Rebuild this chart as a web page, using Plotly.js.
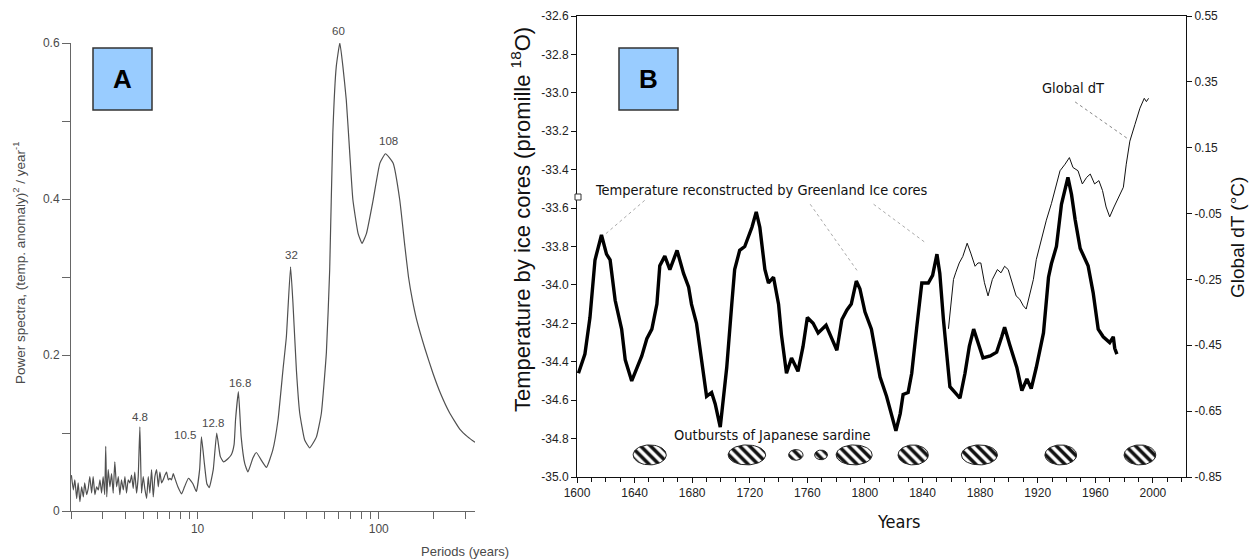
<!DOCTYPE html>
<html><head><meta charset="utf-8">
<script src="https://cdn.plot.ly/plotly-3.0.1.min.js"></script>
<style>html,body{margin:0;padding:0;background:#fff}#chart{width:1250px;height:560px}</style>
</head><body><div id="chart"></div>
<script>
// ---------- Panel A: power spectrum ----------
const periods = [
 2.01,2.06,2.10,2.15,2.19,2.24,2.29,2.34,2.38,2.44,
 2.49,2.54,2.60,2.65,2.71,2.77,2.83,2.89,2.95,3.01,
 3.07,3.11,3.15,3.21,3.28,3.35,3.42,3.49,3.57,3.65,
 3.72,3.80,3.89,3.97,4.05,4.14,4.23,4.32,4.41,4.50,
 4.60,4.70,4.80,4.90,5.01,5.11,5.23,5.34,5.45,5.57,
 5.69,5.81,5.94,6.07,6.19,6.33,6.46,6.60,6.74,6.89,
 7.03,7.18,7.34,7.49,7.78,8.16,8.47,8.9,9.42,9.84,
 10.26,10.5,10.9,11.25,11.6,12.2,12.75,13.34,13.9,14.7,
 15.35,15.9,16.2,16.8,17.4,18.2,18.96,20.2,21.1,22.5,
 24.0,26.0,27.8,29.6,30.9,32.6,33.6,35.1,36.6,39.0,
 41.6,45.3,48.2,51.4,53.6,55.8,58.3,61.0,63.4,66.2,
 69.0,72.0,76.9,80.9,85.6,93.2,101.5,109,120,130.6,
 139.3,146,153,162,180,199,220,246,280,310,
 340];
const power = [
 0.046,0.027,0.040,0.016,0.036,0.012,0.031,0.018,0.036,0.021,
 0.029,0.044,0.023,0.044,0.021,0.031,0.027,0.040,0.023,0.044,
 0.021,0.083,0.018,0.053,0.031,0.048,0.023,0.063,0.031,0.044,
 0.021,0.040,0.027,0.044,0.023,0.040,0.036,0.046,0.029,0.050,
 0.023,0.044,0.108,0.023,0.044,0.029,0.016,0.044,0.023,0.053,
 0.018,0.044,0.053,0.031,0.050,0.036,0.040,0.046,0.050,0.040,
 0.042,0.040,0.048,0.042,0.031,0.022,0.031,0.042,0.035,0.025,
 0.053,0.095,0.061,0.035,0.030,0.053,0.100,0.070,0.063,0.067,
 0.072,0.085,0.117,0.153,0.095,0.061,0.050,0.068,0.075,0.065,
 0.056,0.078,0.117,0.181,0.223,0.313,0.267,0.181,0.126,0.091,
 0.081,0.095,0.125,0.203,0.309,0.485,0.570,0.600,0.570,0.527,
 0.463,0.399,0.356,0.343,0.356,0.399,0.446,0.458,0.446,0.399,
 0.340,0.300,0.272,0.245,0.208,0.177,0.150,0.126,0.105,0.095,
 0.088];
const peakNames = ["60","108","32","16.8","12.8","10.5","4.8"];
const periodTickVals = [2,3,4,5,6,7,8,9,10,20,30,40,50,60,70,80,90,100,200,300];
const periodTickText = ["","","","","","","","","10","","","","","","","","","100","",""];
const powerTickVals = [0,0.1,0.2,0.3,0.4,0.5,0.6];
const powerTickText = ["0","","0.2","","0.4","","0.6"];

// ---------- Panel B: Greenland ice cores, global dT, sardine outbursts ----------
const iceYears = [
 1601,1605.5,1609,1612.5,1617,1620.5,1623,1626.5,1631,1633.5,
 1638,1641.5,1645,1648.5,1652,1655.5,1657.5,1661,1664.5,1669.5,
 1674,1677.5,1679.5,1683,1686.5,1690,1693.5,1696,1699.5,1704,
 1707.5,1709.5,1713,1716.5,1721.5,1724.5,1727,1730.5,1733,1736.5,
 1740,1742,1745.5,1749,1753.5,1757,1760,1764,1767.5,1773,
 1777,1780.5,1784,1787.5,1790.5,1794,1796.5,1800,1804.5,1808,
 1810.5,1815,1818.5,1821.5,1824.5,1826.5,1830,1832.5,1836,1839.5,
 1844,1847,1850,1852,1854.5,1857,1859,1862.5,1866,1869.5,
 1872.5,1875.5,1878.5,1882,1887,1891.5,1895,1897,1900.5,1905.5,
 1909,1912.5,1915.5,1919,1924,1927.5,1929.5,1933,1936.5,1941,
 1943.5,1946,1949.5,1955,1958.5,1962,1965.5,1970,1972.5,1973.5,
 1975];
const iceDelta18O = [
 -34.46,-34.36,-34.17,-33.87,-33.74,-33.84,-33.87,-34.08,-34.23,-34.39,
 -34.50,-34.44,-34.37,-34.28,-34.23,-34.10,-33.90,-33.85,-33.92,-33.82,
 -33.94,-34.01,-34.10,-34.20,-34.39,-34.58,-34.56,-34.62,-34.74,-34.43,
 -34.10,-33.92,-33.82,-33.80,-33.70,-33.62,-33.70,-33.92,-33.99,-33.96,
 -34.10,-34.26,-34.46,-34.38,-34.45,-34.32,-34.17,-34.20,-34.25,-34.21,
 -34.28,-34.34,-34.18,-34.13,-34.10,-33.98,-34.02,-34.14,-34.23,-34.37,
 -34.48,-34.58,-34.67,-34.76,-34.67,-34.57,-34.56,-34.46,-34.22,-33.99,
 -33.99,-33.95,-33.84,-33.94,-34.18,-34.37,-34.53,-34.56,-34.59,-34.46,
 -34.32,-34.23,-34.30,-34.38,-34.37,-34.35,-34.27,-34.22,-34.31,-34.43,
 -34.55,-34.49,-34.54,-34.43,-34.25,-33.96,-33.89,-33.80,-33.58,-33.44,
 -33.53,-33.66,-33.81,-33.90,-34.04,-34.23,-34.27,-34.30,-34.27,-34.33,
 -34.36];
const dtYears = [
 1858,1860,1861.5,1863,1865.5,1868,1871,1873.5,1876.5,1878.5,
 1880.5,1883,1885.5,1888.5,1892,1894.5,1897,1899.5,1901.5,1905,
 1907.5,1910,1912,1914.5,1917,1919,1922.5,1926,1929.5,1932,
 1935.5,1939,1942,1944.5,1948,1951,1954,1956.5,1959.5,1962.5,
 1965,1967.5,1970,1973,1976,1979.5,1981.5,1984,1987.5,1991,
 1994,1995.5,1997];
const globalDT = [
 -0.40,-0.31,-0.25,-0.23,-0.20,-0.18,-0.14,-0.17,-0.21,-0.20,
 -0.20,-0.26,-0.30,-0.25,-0.22,-0.23,-0.21,-0.22,-0.25,-0.30,
 -0.31,-0.33,-0.34,-0.29,-0.25,-0.19,-0.13,-0.07,-0.02,0.02,
 0.08,0.10,0.12,0.09,0.08,0.04,0.06,0.07,0.04,0.05,
 0.02,-0.03,-0.06,-0.03,0.00,0.03,0.10,0.17,0.22,0.27,
 0.30,0.29,0.30];
const sardineStart = [1639,1705,1747,1765,1780,1823,1867,1925,1980];
const sardineEnd   = [1662,1731,1757,1774,1805,1844,1892,1947,2002];
const yearTickVals = [1600,1640,1680,1720,1760,1800,1840,1880,1920,1960,2000];
const iceTickVals = [-35.0,-34.8,-34.6,-34.4,-34.2,-34.0,-33.8,-33.6,-33.4,-33.2,-33.0,-32.8,-32.6];
const iceTickText = ["-35.0","-34.8","-34.6","-34.4","-34.2","-34.0","-33.8","-33.6","-33.4","-33.2","-33.0","-32.8","-32.6"];
const dtTickVals = [0.55,0.35,0.15,-0.05,-0.25,-0.45,-0.65,-0.85];
const dtTickText = ["0.55","0.35","0.15","-0.05","-0.25","-0.45","-0.65","-0.85"];

// ---------- drawing ----------
const W = 1250, H = 560;
const px = v => v / W, py = v => 1 - v / H;
const sans = "Liberation Sans, Arial, sans-serif";
const cond = "DejaVu Sans Condensed, DejaVu Sans, sans-serif";
const grayA = "#4a4a4a";

const traces = [];
traces.push({type:"scatter", mode:"lines", x:periods, y:power, xaxis:"x", yaxis:"y",
  line:{color:"#505050", width:1.2, shape:"spline", smoothing:0.4}, hoverinfo:"skip"});

// sardine outburst ellipses (hatched)
const sardineY = -34.885;
for (let i = 0; i < sardineStart.length; i++) {
  const c = (sardineStart[i] + sardineEnd[i]) / 2, a = (sardineEnd[i] - sardineStart[i]) / 2;
  const b = Math.min(0.052, a * 0.0056);
  const ex = [], ey = [];
  for (let k = 0; k <= 60; k++) { const t = 2 * Math.PI * k / 60; ex.push(c + a * Math.cos(t)); ey.push(sardineY + b * Math.sin(t)); }
  traces.push({type:"scatter", mode:"lines", x:ex, y:ey, xaxis:"x2", yaxis:"y2", fill:"toself",
    fillcolor:"#ffffff", fillpattern:{shape:"\\", fgcolor:"#111", bgcolor:"#fff", size:7, solidity:0.5},
    line:{color:"#222", width:1}, hoverinfo:"skip"});
}
traces.push({type:"scatter", mode:"lines", x:iceYears, y:iceDelta18O, xaxis:"x2", yaxis:"y2",
  line:{color:"#000", width:3.4}, hoverinfo:"skip"});
traces.push({type:"scatter", mode:"lines", x:dtYears, y:globalDT, xaxis:"x2", yaxis:"y3",
  line:{color:"#111", width:1}, hoverinfo:"skip"});

const tickFontA = {family:sans, size:12, color:grayA};
const tickFontB = {family:sans, size:12, color:"#222"};
const peakFont = {family:sans, size:11.5, color:grayA};

const layout = {
  width:W, height:H, margin:{l:0, r:0, t:0, b:0},
  paper_bgcolor:"#fff", plot_bgcolor:"rgba(0,0,0,0)", showlegend:false,
  xaxis:{domain:[px(71), px(475)], type:"log", range:[Math.log10(2), Math.log10(340)], anchor:"y",
    showline:true, linecolor:"#666", linewidth:1, ticks:"outside", ticklen:7, tickcolor:"#666",
    tickmode:"array", tickvals:periodTickVals, ticktext:periodTickText, showgrid:false, zeroline:false,
    tickfont:tickFontA},
  yaxis:{domain:[py(511), py(43)], range:[0, 0.6], anchor:"x",
    showline:true, linecolor:"#666", linewidth:1, ticks:"outside", ticklen:8, tickcolor:"#666",
    tickmode:"array", tickvals:powerTickVals, ticktext:powerTickText, showgrid:false, zeroline:false,
    tickfont:tickFontA},
  xaxis2:{domain:[px(577), px(1186)], range:[1600, 2023], anchor:"y2",
    showline:true, mirror:true, linecolor:"#111", linewidth:1, ticks:"outside", ticklen:5, tickcolor:"#111",
    tickmode:"array", tickvals:yearTickVals,
    minor:{tickmode:"linear", tick0:1600, dtick:10, ticks:"outside", ticklen:4, tickcolor:"#111"},
    showgrid:false, zeroline:false, tickfont:tickFontB},
  yaxis2:{domain:[py(477), py(16)], range:[-35.0, -32.6], anchor:"x2",
    showline:true, linecolor:"#111", linewidth:1, ticks:"outside", ticklen:5, tickcolor:"#111",
    tickmode:"array", tickvals:iceTickVals, ticktext:iceTickText, showgrid:false, zeroline:false,
    tickfont:tickFontB},
  yaxis3:{overlaying:"y2", side:"right", anchor:"x2", range:[-0.85, 0.55],
    showline:true, linecolor:"#111", linewidth:1, ticks:"outside", ticklen:5, tickcolor:"#111",
    tickmode:"array", tickvals:dtTickVals, ticktext:dtTickText, showgrid:false, zeroline:false,
    tickfont:tickFontB},
  shapes:[
    {type:"rect", xref:"paper", yref:"paper", x0:px(93), x1:px(152), y0:py(110), y1:py(48),
     fillcolor:"#99ccff", line:{color:"#333", width:1.5}},
    {type:"rect", xref:"paper", yref:"paper", x0:px(619), x1:px(678), y0:py(110), y1:py(48),
     fillcolor:"#99ccff", line:{color:"#333", width:1.5}},
    {type:"line", xref:"x2", yref:"y2", x0:1647, y0:-33.56, x1:1619, y1:-33.74, line:{color:"#aaa", width:1, dash:"dot"}},
    {type:"line", xref:"x2", yref:"y2", x0:1762, y0:-33.58, x1:1795, y1:-33.93, line:{color:"#aaa", width:1, dash:"dot"}},
    {type:"line", xref:"x2", yref:"y2", x0:1806, y0:-33.58, x1:1842, y1:-33.78, line:{color:"#aaa", width:1, dash:"dot"}},
    {type:"line", xref:"x2", yref:"y3", x0:1946, y0:0.289, x1:1982, y1:0.179, line:{color:"#888", width:1, dash:"dot"}},
    {type:"rect", xref:"paper", yref:"paper", x0:px(575), x1:px(581), y0:py(200), y1:py(194),
     fillcolor:"#fff", line:{color:"#333", width:1}}
  ],
  annotations:[
    {xref:"paper", yref:"paper", x:px(122.5), y:py(79), xanchor:"center", yanchor:"middle", text:"A", showarrow:false,
     font:{family:sans, size:26, color:"#000", weight:"bold"}},
    {xref:"paper", yref:"paper", x:px(648.5), y:py(79), xanchor:"center", yanchor:"middle", text:"B", showarrow:false,
     font:{family:sans, size:26, color:"#000", weight:"bold"}},
    // panel A peak labels
    {xref:"x", yref:"y", x:Math.log10(60.1), y:0.6, yanchor:"bottom", yshift:4, text:peakNames[0], showarrow:false, font:peakFont},
    {xref:"x", yref:"y", x:Math.log10(113), y:0.474, text:peakNames[1], showarrow:false, font:peakFont},
    {xref:"x", yref:"y", x:Math.log10(33.0), y:0.328, text:peakNames[2], showarrow:false, font:peakFont},
    {xref:"x", yref:"y", x:Math.log10(17.06), y:0.164, text:peakNames[3], showarrow:false, font:peakFont},
    {xref:"x", yref:"y", x:Math.log10(12.1), y:0.113, text:peakNames[4], showarrow:false, font:peakFont},
    {xref:"x", yref:"y", x:Math.log10(8.47), y:0.097, text:peakNames[5], showarrow:false, font:peakFont},
    {xref:"x", yref:"y", x:Math.log10(4.78), y:0.121, text:peakNames[6], showarrow:false, font:peakFont},
    // panel A axis titles
    {xref:"paper", yref:"paper", x:px(465), y:py(551), xanchor:"center", yanchor:"middle", text:"Periods (years)", showarrow:false,
     font:{family:sans, size:13, color:grayA}},
    {xref:"paper", yref:"paper", x:px(19), y:py(263), xanchor:"center", yanchor:"middle",
     text:"Power spectra, (temp. anomaly)<sup>2</sup> / year<sup>-1</sup>",
     textangle:-90, showarrow:false, font:{family:sans, size:13.5, color:grayA}},
    // panel B texts
    {xref:"x2", yref:"y2", x:1611, y:-33.506, xanchor:"left", text:"Temperature reconstructed by Greenland Ice cores",
     showarrow:false, font:{family:cond, size:14.5, color:"#111"}},
    {xref:"x2", yref:"y2", x:1921.5, y:-32.975, xanchor:"left", text:"Global dT",
     showarrow:false, font:{family:cond, size:14.5, color:"#111"}},
    {xref:"x2", yref:"y2", x:1666, y:-34.781, xanchor:"left", text:"Outbursts of Japanese sardine",
     showarrow:false, font:{family:cond, size:14.5, color:"#111"}},
    {xref:"paper", yref:"paper", x:px(898), y:py(521), xanchor:"center", yanchor:"middle", text:"Years", showarrow:false,
     font:{family:cond, size:18, color:"#111"}},
    {xref:"paper", yref:"paper", x:px(521), y:py(220), xanchor:"center", yanchor:"middle",
     text:"Temperature by ice cores (promille <sup>18</sup>O)",
     textangle:-90, showarrow:false, font:{family:sans, size:22, color:"#111"}},
    {xref:"paper", yref:"paper", x:px(1237), y:py(238), xanchor:"center", yanchor:"middle", text:"Global dT (°C)",
     textangle:-90, showarrow:false, font:{family:sans, size:19, color:"#111"}}
  ]
};

Plotly.newPlot("chart", traces, layout, {staticPlot:true, displayModeBar:false});
</script>
</body></html>
